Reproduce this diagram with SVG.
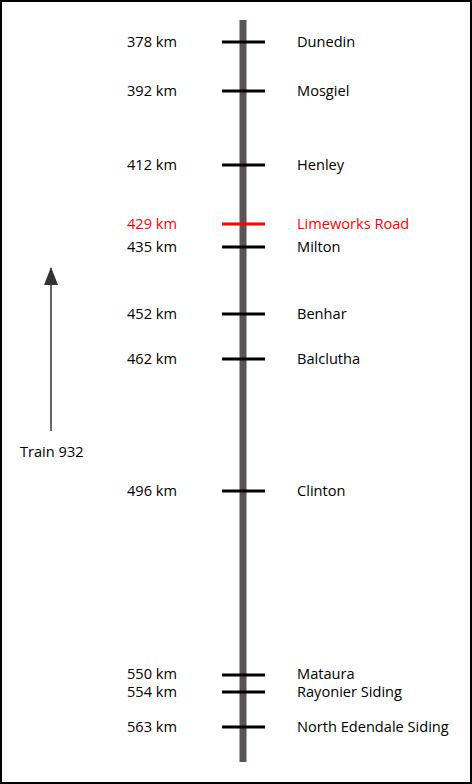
<svg xmlns="http://www.w3.org/2000/svg" width="472" height="784" viewBox="0 0 472 784">
<defs>
<style>
text{font-family:"Open Sans","Noto Sans","Liberation Sans",sans-serif;font-size:14.6px;fill:#000}
.km{text-anchor:end}
.red{fill:#ff0000}
.tick{stroke:#000;stroke-width:3}
.tick.r{stroke:#ff0000}
</style>
<marker id="ah" viewBox="0 0 18 14" markerWidth="18" markerHeight="14" refX="17" refY="7" orient="auto" markerUnits="userSpaceOnUse">
<path d="M0,0 L18,7 L0,14 Z" fill="#333"/>
</marker>
</defs>
<rect x="1" y="1" width="470" height="782" fill="#fff" stroke="#000" stroke-width="2"/>
<g id="connectors">
<line id="rail" x1="243" y1="20" x2="243" y2="762" stroke="#5a5555" stroke-width="7"/>
<line id="direction" x1="51" y1="431" x2="51" y2="268" stroke="#333" stroke-width="1.5" marker-end="url(#ah)"/>
</g>
<g id="train"><text x="20" y="457">Train 932</text></g>
<g id="dunedin"><line class="tick" x1="222" y1="42" x2="265" y2="42"/><text class="km" x="177" y="47">378 km</text><text x="297" y="47">Dunedin</text></g>
<g id="mosgiel"><line class="tick" x1="222" y1="91" x2="265" y2="91"/><text class="km" x="177" y="96">392 km</text><text x="297" y="96">Mosgiel</text></g>
<g id="henley"><line class="tick" x1="222" y1="165" x2="265" y2="165"/><text class="km" x="177" y="170">412 km</text><text x="297" y="170">Henley</text></g>
<g id="limeworks"><line class="tick r" x1="222" y1="224" x2="265" y2="224"/><text class="km red" x="177" y="229">429 km</text><text class="red" x="297" y="229">Limeworks Road</text></g>
<g id="milton"><line class="tick" x1="222" y1="247" x2="265" y2="247"/><text class="km" x="177" y="252">435 km</text><text x="297" y="252">Milton</text></g>
<g id="benhar"><line class="tick" x1="222" y1="314" x2="265" y2="314"/><text class="km" x="177" y="319">452 km</text><text x="297" y="319">Benhar</text></g>
<g id="balclutha"><line class="tick" x1="222" y1="359" x2="265" y2="359"/><text class="km" x="177" y="364">462 km</text><text x="297" y="364">Balclutha</text></g>
<g id="clinton"><line class="tick" x1="222" y1="491" x2="265" y2="491"/><text class="km" x="177" y="496">496 km</text><text x="297" y="496">Clinton</text></g>
<g id="mataura"><line class="tick" x1="222" y1="675" x2="265" y2="675"/><text class="km" x="177" y="679">550 km</text><text x="297" y="679">Mataura</text></g>
<g id="rayonier"><line class="tick" x1="222" y1="692" x2="265" y2="692"/><text class="km" x="177" y="697">554 km</text><text x="297" y="697">Rayonier Siding</text></g>
<g id="north-edendale"><line class="tick" x1="222" y1="727" x2="265" y2="727"/><text class="km" x="177" y="732">563 km</text><text x="297" y="732">North Edendale Siding</text></g>
</svg>
